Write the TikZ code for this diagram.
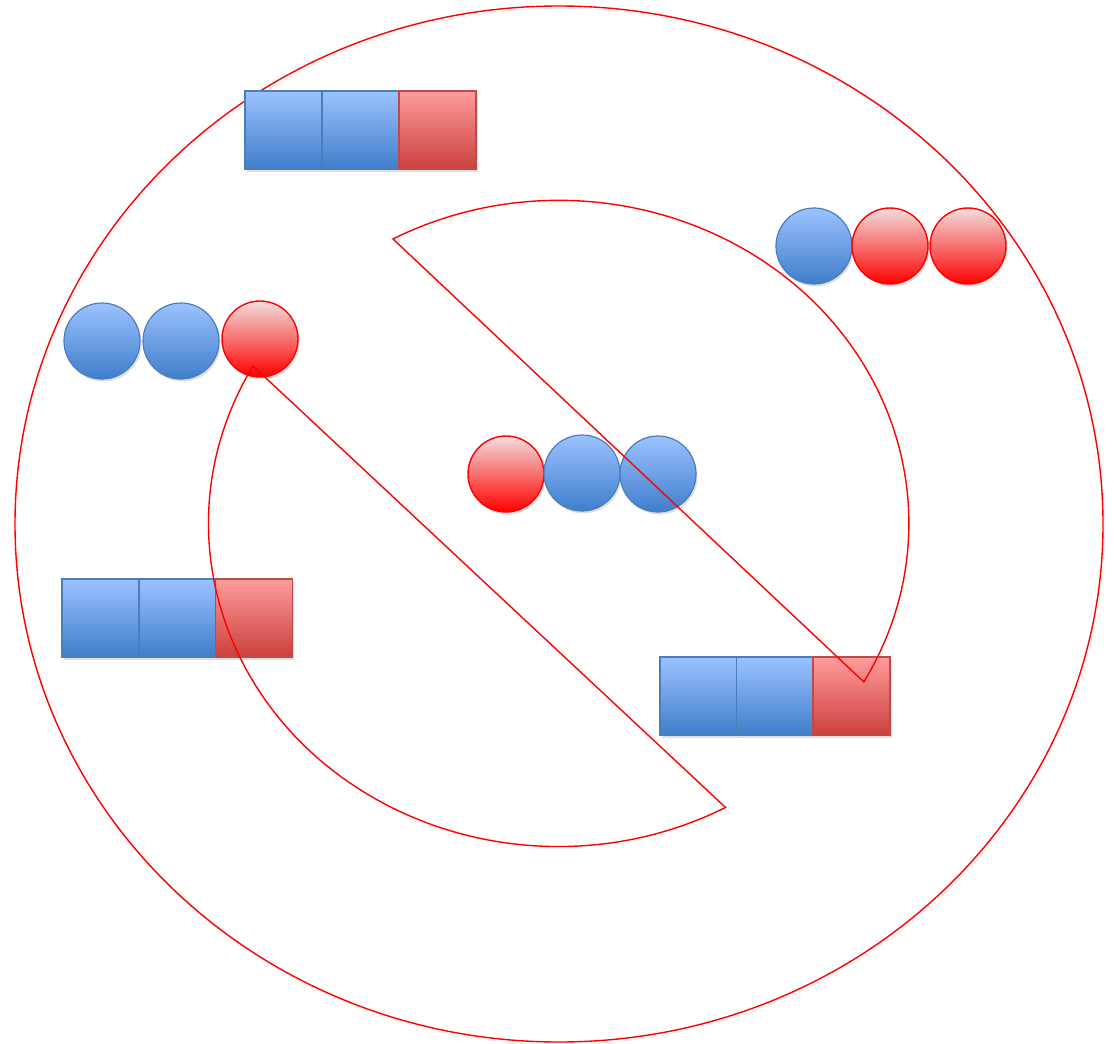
\documentclass[tikz,border=0pt]{standalone}
\usetikzlibrary{shadows}
\definecolor{bluetop}{HTML}{9CC2FF}
\definecolor{bluebot}{HTML}{3F7ECB}
\definecolor{blueedge}{HTML}{4A7EBB}
\definecolor{redtop}{HTML}{FF9C9C}
\definecolor{redbot}{HTML}{CC3F3C}
\definecolor{rededge}{HTML}{BE4B48}
\definecolor{pinktop}{HTML}{F2DEDD}
\definecolor{pinkbot}{HTML}{FF0000}
\tikzset{
  shd/.style={drop shadow={opacity=0.25,shadow xshift=1.5pt,shadow yshift=-2.5pt}},
  bsq/.style={rectangle,minimum width=77pt,minimum height=78pt,inner sep=0pt,draw=blueedge,line width=1.2pt,top color=bluetop,bottom color=bluebot,shd},
  rsq/.style={rectangle,minimum width=77pt,minimum height=78pt,inner sep=0pt,draw=rededge,line width=1.2pt,top color=redtop,bottom color=redbot,shd},
  bci/.style={circle,minimum size=76pt,inner sep=0pt,draw=blueedge,line width=1.2pt,top color=bluetop,bottom color=bluebot,shd},
  rci/.style={circle,minimum size=76pt,inner sep=0pt,draw=red,line width=1.4pt,top color=pinktop,bottom color=pinkbot,shd},
  redline/.style={draw=red,line width=1.4pt,line join=miter},
}
\begin{document}
\begin{tikzpicture}[x=1pt,y=1pt]
\useasboundingbox (0,0) rectangle (1114,-1044);
% outer ellipse
\draw[redline,drop shadow={opacity=0.2,shadow xshift=1.5pt,shadow yshift=-2.5pt,fill=none,draw=black!50}] (559,-524) ellipse [x radius=544,y radius=518];
% squares
\node[bsq] (t1) at (283.5,-130) {};
\node[bsq] (t2) at (360.5,-130) {};
\node[rsq] (t3) at (437.5,-130) {};
\node[bsq] (l1) at (100.5,-618) {};
\node[bsq] (l2) at (177.5,-618) {};
\node[rsq] (l3) at (254,-618) {};
\node[bsq] (b1) at (698.5,-696) {};
\node[bsq] (b2) at (775,-696) {};
\node[rsq] (b3) at (851.5,-696) {};
% circles
\node[bci] (c1) at (814,-246) {};
\node[rci] (c2) at (890,-246) {};
\node[rci] (c3) at (968,-246) {};
\node[bci] (d1) at (102,-341) {};
\node[bci] (d2) at (181,-341) {};
\node[rci] (d3) at (260,-339) {};
\node[rci] (e1) at (506,-474) {};
\node[bci] (e2) at (582,-473) {};
\node[bci] (e3) at (658,-474) {};
% inner pieces
\draw[redline] (393,-239) arc[start angle=118.3,end angle=-29.4,x radius=350,y radius=323] -- cycle;
\draw[redline] (253,-366) arc[start angle=150.8,end angle=298.5,x radius=350,y radius=323] -- cycle;
\end{tikzpicture}
\end{document}
